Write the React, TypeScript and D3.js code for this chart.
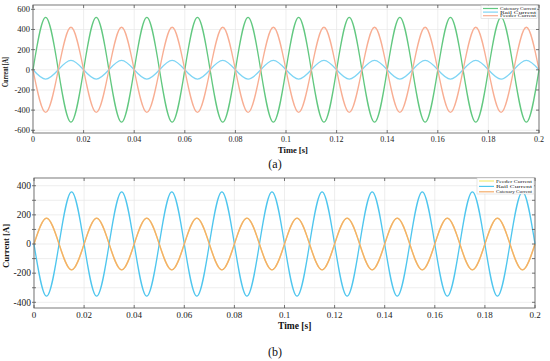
import React from "react";
import * as d3 from "d3";

// sample times (quarter periods of the 50 Hz waveforms)
const timeS = [
  0, 0.005, 0.01, 0.015, 0.02, 0.025, 0.03, 0.035, 0.04, 0.045,
  0.05, 0.055, 0.06, 0.065, 0.07, 0.075, 0.08, 0.085, 0.09, 0.095,
  0.1, 0.105, 0.11, 0.115, 0.12, 0.125, 0.13, 0.135, 0.14, 0.145,
  0.15, 0.155, 0.16, 0.165, 0.17, 0.175, 0.18, 0.185, 0.19, 0.195, 0.2,
];

// (a) currents
const catenaryA = [
  0, 520, 0, -520, 0, 520, 0, -520, 0, 520,
  0, -520, 0, 520, 0, -520, 0, 520, 0, -520,
  0, 520, 0, -520, 0, 520, 0, -520, 0, 520,
  0, -520, 0, 520, 0, -520, 0, 520, 0, -520, 0,
];
const railA = [
  0, -93, 0, 93, 0, -93, 0, 93, 0, -93,
  0, 93, 0, -93, 0, 93, 0, -93, 0, 93,
  0, -93, 0, 93, 0, -93, 0, 93, 0, -93,
  0, 93, 0, -93, 0, 93, 0, -93, 0, 93, 0,
];
const feederA = [
  0, -422, 0, 422, 0, -422, 0, 422, 0, -422,
  0, 422, 0, -422, 0, 422, 0, -422, 0, 422,
  0, -422, 0, 422, 0, -422, 0, 422, 0, -422,
  0, 422, 0, -422, 0, 422, 0, -422, 0, 422, 0,
];

// (b) currents
const feederB = [
  0, 178, 0, -178, 0, 178, 0, -178, 0, 178,
  0, -178, 0, 178, 0, -178, 0, 178, 0, -178,
  0, 178, 0, -178, 0, 178, 0, -178, 0, 178,
  0, -178, 0, 178, 0, -178, 0, 178, 0, -178, 0,
];
const railB = [
  0, -358, 0, 358, 0, -358, 0, 358, 0, -358,
  0, 358, 0, -358, 0, 358, 0, -358, 0, 358,
  0, -358, 0, 358, 0, -358, 0, 358, 0, -358,
  0, 358, 0, -358, 0, 358, 0, -358, 0, 358, 0,
];
const catenaryB = [
  0, 178, 0, -178, 0, 178, 0, -178, 0, 178,
  0, -178, 0, 178, 0, -178, 0, 178, 0, -178,
  0, 178, 0, -178, 0, 178, 0, -178, 0, 178,
  0, -178, 0, 178, 0, -178, 0, 178, 0, -178, 0,
];

const xTicks = [0, 0.02, 0.04, 0.06, 0.08, 0.1, 0.12, 0.14, 0.16, 0.18, 0.2];
const yTicksA = [-600, -400, -200, 0, 200, 400, 600];
const yTicksB = [-400, -200, 0, 200, 400];
const yMinorB = [-400, -300, -200, -100, 0, 100, 200, 300, 400];

type Series = { name: string; values: number[]; color: string };

const FONT = "'Liberation Serif', 'Times New Roman', serif";

const Panel = ({
  series, legend, left, right, top, bottom, yDomain, yTicks, yGrid,
  tickSize, labelSize, yTitleSize, yTitleLen, caption, captionY, legendBox,
}: {
  series: Series[]; legend: Series[]; left: number; right: number; top: number;
  bottom: number; yDomain: [number, number]; yTicks: number[]; yGrid: number[];
  tickSize: number; labelSize: number; yTitleSize: number; yTitleLen: number;
  caption: string; captionY: number;
  legendBox: { x: number; y: number; w: number; h: number; row: number; font: number; len: number };
}) => {
  const x = d3.scaleLinear().domain([0, 0.2]).range([left, right]);
  const y = d3.scaleLinear().domain(yDomain).range([bottom, top]);
  const line = d3
    .line<number>()
    .x((_, i) => x(timeS[i]))
    .y((d) => y(d))
    .curve(d3.curveNatural);
  const midY = (top + bottom) / 2;
  return (
    <g fontFamily={FONT}>
      {/* grid */}
      {xTicks.map((t) => (
        <line key={"gx" + t} x1={x(t)} x2={x(t)} y1={top} y2={bottom} stroke="#e6e6e6" strokeWidth={0.7} />
      ))}
      {yGrid.map((t) => (
        <line key={"gy" + t} x1={left} x2={right} y1={y(t)} y2={y(t)} stroke="#e6e6e6" strokeWidth={0.7} />
      ))}
      {/* curves */}
      {series.map((s) => (
        <path key={s.name} d={line(s.values) ?? ""} fill="none" stroke={s.color} strokeWidth={1.3} />
      ))}
      {/* frame */}
      <rect x={left} y={top} width={right - left} height={bottom - top} fill="none" stroke="#6a6a6a" strokeWidth={0.9} />
      {xTicks.map((t) => (
        <g key={"tx" + t}>
          <line x1={x(t)} x2={x(t)} y1={bottom} y2={bottom - 3} stroke="#555" strokeWidth={0.8} />
          <line x1={x(t)} x2={x(t)} y1={top} y2={top + 3} stroke="#555" strokeWidth={0.8} />
          <text x={x(t)} y={bottom + tickSize + 1} fontSize={tickSize} textAnchor="middle" fill="#222">
            {t}
          </text>
        </g>
      ))}
      {yGrid.map((t) => (
        <g key={"ty" + t}>
          <line x1={left - 2} x2={left + 2} y1={y(t)} y2={y(t)} stroke="#555" strokeWidth={0.8} />
          <line x1={right} x2={right - 3} y1={y(t)} y2={y(t)} stroke="#555" strokeWidth={0.8} />
        </g>
      ))}
      {yTicks.map((t) => (
        <text key={"ly" + t} x={left - 3} y={y(t)} dy="0.35em" fontSize={tickSize + 0.5} textAnchor="end" fill="#222">
          {t}
        </text>
      ))}
      {/* axis titles */}
      <text x={278} y={bottom + tickSize + 12} fontSize={labelSize} fontWeight="bold" fill="#111">
        Time [s]
      </text>
      <text
        transform={`translate(${left - 25},${midY + 3}) rotate(-90)`}
        fontSize={yTitleSize}
        fontWeight="bold"
        textAnchor="middle"
        textLength={yTitleLen}
        lengthAdjust="spacingAndGlyphs"
        fill="#111"
      >
        Current [A]
      </text>
      {/* legend */}
      <rect x={legendBox.x} y={legendBox.y} width={legendBox.w} height={legendBox.h} fill="#fff" stroke="#d0d0d0" strokeWidth={0.5} />
      {legend.map((s, i) => {
        const ly = legendBox.y + 3 + i * legendBox.row;
        return (
          <g key={"lg" + s.name}>
            <line x1={legendBox.x + 2} x2={legendBox.x + 17} y1={ly} y2={ly} stroke={s.color} strokeWidth={1.2} />
            <text
              x={legendBox.x + 19}
              y={ly}
              dy="0.35em"
              fontSize={legendBox.font}
              textLength={legendBox.len}
              lengthAdjust="spacingAndGlyphs"
              fill="#222"
            >
              {s.name}
            </text>
          </g>
        );
      })}
      <text x={275} y={captionY} fontSize={12} textAnchor="middle" fill="#111">
        {caption}
      </text>
    </g>
  );
};

export default function App() {
  const seriesA: Series[] = [
    { name: "Catenary Current", values: catenaryA, color: "#62c880" },
    { name: "Rail Current", values: railA, color: "#7fd5f4" },
    { name: "Feeder Current", values: feederA, color: "#f8ae93" },
  ];
  const seriesB: Series[] = [
    { name: "Feeder Current", values: feederB, color: "#f3ec78" },
    { name: "Rail Current", values: railB, color: "#4fc6ee" },
    { name: "Catenary Current", values: catenaryB, color: "#f4ad6b" },
  ];
  return (
    <svg
      width={550}
      height={361}
      style={{ position: "absolute", left: 0, top: 0, background: "#fff" }}
    >
      <Panel
        series={seriesA}
        legend={seriesA}
        left={33}
        right={539}
        top={5}
        bottom={133}
        yDomain={[-627, 643]}
        yTicks={yTicksA}
        yGrid={yTicksA}
        tickSize={8}
        labelSize={8.5}
        yTitleSize={7.5}
        yTitleLen={30}
        caption="(a)"
        captionY={168}
        legendBox={{ x: 481, y: 5.5, w: 56, h: 13, row: 3.6, font: 4, len: 36 }}
      />
      <Panel
        series={seriesB}
        legend={seriesB}
        left={34}
        right={535}
        top={178}
        bottom={308}
        yDomain={[-439, 453]}
        yTicks={yTicksB}
        yGrid={yMinorB}
        tickSize={9}
        labelSize={9.5}
        yTitleSize={8.5}
        yTitleLen={44}
        caption="(b)"
        captionY={356}
        legendBox={{ x: 477, y: 178, w: 57, h: 16, row: 5.4, font: 4.6, len: 36 }}
      />
    </svg>
  );
}
